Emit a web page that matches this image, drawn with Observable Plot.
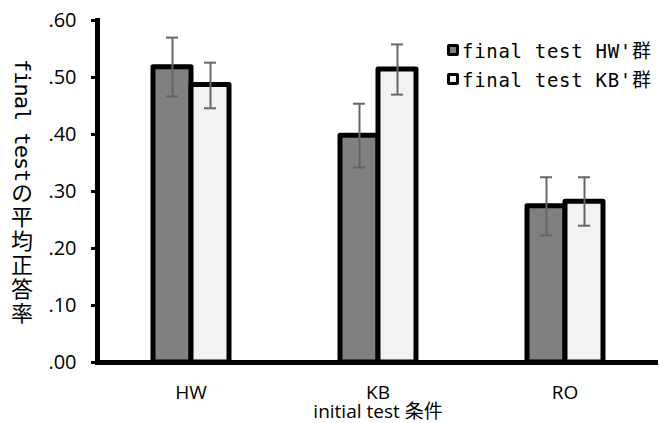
<!DOCTYPE html>
<html><head><meta charset="utf-8">
<script src="https://cdn.jsdelivr.net/npm/d3@7"></script>
<script src="https://cdn.jsdelivr.net/npm/@observablehq/plot@0.6"></script>
<style>
body{margin:0;background:#fff;}
#wrap{position:relative;width:659px;height:423px;overflow:hidden;}
#ylab{position:absolute;left:9px;top:59px;writing-mode:vertical-rl;font-size:22px;line-height:26px;color:#000;white-space:nowrap;}
#ylab .lat{font-family:"DejaVu Sans Mono",monospace;letter-spacing:-1px;}
#ylab .cjk{font-family:"Noto Sans CJK JP",sans-serif;letter-spacing:2px;}
#legend{position:absolute;left:447px;top:35px;color:#000;}
.row{display:flex;align-items:center;height:29px;white-space:nowrap;}
.sw{display:inline-block;width:12px;height:12px;box-sizing:border-box;border:3px solid #000;border-radius:2px;margin-right:3px;}
.lt{font-family:"DejaVu Sans Mono","Noto Sans CJK JP",monospace;font-size:19px;letter-spacing:0.7px;}
</style></head><body>
<div id="wrap"><div id="chart"></div>
<div id="ylab"><span class="lat">final test</span><span class="cjk">の平均正答率</span></div>
<div id="legend"></div></div>
<script>
const categories = ["HW", "KB", "RO"];
const seriesNames = ["final test HW'群", "final test KB'群"];
const seriesColors = ["#808080", "#f2f2f2"];
const hwGroupMean = [0.518, 0.398, 0.274];
const hwGroupLow  = [0.467, 0.342, 0.223];
const hwGroupHigh = [0.570, 0.454, 0.325];
const kbGroupMean = [0.487, 0.514, 0.282];
const kbGroupLow  = [0.446, 0.470, 0.240];
const kbGroupHigh = [0.526, 0.558, 0.325];
const yTicks = [0, 0.1, 0.2, 0.3, 0.4, 0.5, 0.6];
const yTickLabels = [".00", ".10", ".20", ".30", ".40", ".50", ".60"];
const xTitle = "initial test 条件";

const groups = [
  {name: seriesNames[0], mean: hwGroupMean, lo: hwGroupLow, hi: hwGroupHigh},
  {name: seriesNames[1], mean: kbGroupMean, lo: kbGroupLow, hi: kbGroupHigh}
];
const rows = [];
categories.forEach((c, i) => groups.forEach(g => rows.push({cat: c, series: g.name, mean: g.mean[i], lo: g.lo[i], hi: g.hi[i]})));

const errStyle = {fx: "cat", x: "series", stroke: "#666", strokeWidth: 2};
const chart = Plot.plot({
  width: 659, height: 423,
  marginTop: 20, marginBottom: 61, marginLeft: 97, marginRight: 1,
  style: {fontFamily: "'Open Sans','Noto Sans CJK JP',sans-serif", fontSize: "19px", color: "#000", background: "#fff"},
  fx: {domain: categories, paddingInner: 0, paddingOuter: 0, label: xTitle, labelAnchor: "center", tickSize: 0, tickPadding: 23, labelOffset: 55},
  x: {domain: seriesNames, paddingInner: 0, paddingOuter: 1.4, axis: null},
  y: {domain: [0, 0.6], ticks: yTicks, tickFormat: d => yTickLabels[yTicks.indexOf(d)], tickSize: 6, tickPadding: 15, label: null},
  color: {domain: seriesNames, range: seriesColors},
  marks: [
    Plot.barY(rows, {fx: "cat", x: "series", y: "mean", fill: "series", stroke: "#000", strokeWidth: 5, strokeLinejoin: "round"}),
    Plot.ruleX(rows, {...errStyle, y1: "lo", y2: "hi"}),
    Plot.tickY(rows, {...errStyle, y: "lo", insetLeft: 13, insetRight: 13}),
    Plot.tickY(rows, {...errStyle, y: "hi", insetLeft: 13, insetRight: 13}),
    Plot.ruleY([0], {stroke: "#000", strokeWidth: 5}),
    Plot.frame({anchor: "left", facetAnchor: "left", stroke: "#000", strokeWidth: 5}),
    Plot.axisY({ticks: yTicks, tickFormat: d => yTickLabels[yTicks.indexOf(d)], tickSize: 6, tickPadding: 15, strokeWidth: 3, label: null, fontSize: 20})
  ]
});
document.getElementById("chart").appendChild(chart);

const legend = document.getElementById("legend");
seriesNames.forEach((n, i) => {
  const r = document.createElement("div"); r.className = "row";
  const s = document.createElement("span"); s.className = "sw"; s.style.background = seriesColors[i];
  const t = document.createElement("span"); t.className = "lt"; t.textContent = n;
  r.appendChild(s); r.appendChild(t); legend.appendChild(r);
});
</script>
</body></html>
